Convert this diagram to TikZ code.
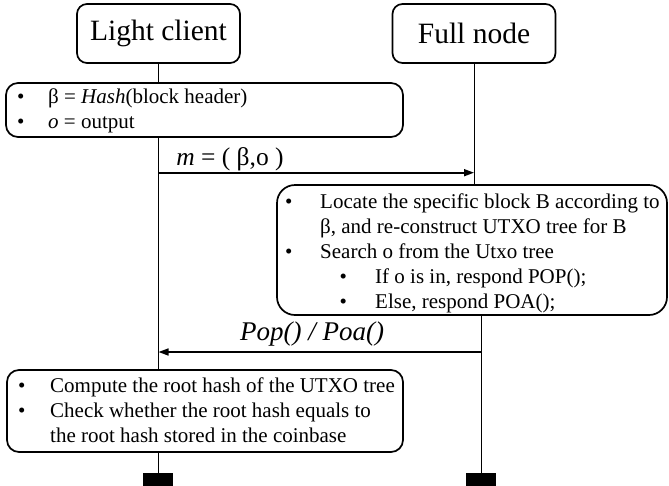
\documentclass[tikz,border=0pt]{standalone}
\usepackage{fontspec}
\setmainfont{Liberation Serif}
\usetikzlibrary{arrows.meta}
\begin{document}
\begin{tikzpicture}[x=1pt,y=-1pt,
 actor/.style={draw, line width=1.7pt, rounded corners=10pt, minimum width=163pt, minimum height=59pt, inner sep=0pt, font=\fontsize{29.5}{35}\selectfont},
 box/.style={draw, line width=1.7pt, rounded corners=12pt, inner sep=0pt},
 btxt/.style={anchor=west, align=left, inner sep=0pt, font=\fontsize{21}{25}\selectfont},
 life/.style={line width=1pt},
 msg/.style={line width=1.6pt, -{Triangle[length=10pt,width=7pt]}},
 bar/.style={fill=black, inner sep=0pt, minimum width=30pt, minimum height=14pt},
 lbl/.style={anchor=base, inner sep=0pt, font=\fontsize{27}{32}\selectfont}
]
\useasboundingbox (0,0) rectangle (669,485);
\node[actor] (lc) at (158.5,33.5) {Light client};
\node[actor] (fn) at (474,33.5) {Full node};
\node[bar] (barL) at (158,480) {};
\node[bar] (barR) at (481,480) {};

\node[box, minimum width=397pt, minimum height=54pt] (b1) at (204.5,110) {};
\node[btxt] (t1) at (17,110.5) {\makebox[31pt][l]{\textbullet}β = \textit{Hash}(block header)\\
\makebox[31pt][l]{\textbullet}\textit{o} = output};

\node[box, rounded corners=18pt, minimum width=390pt, minimum height=130pt] (b2) at (472,250) {};
\node[btxt] (t2) at (285,253) {\makebox[35pt][l]{\textbullet}Locate the specific block B according to\\
\hspace*{35pt}β, and re-construct UTXO tree for B\\
\makebox[35pt][l]{\textbullet}Search o from the Utxo tree\\
\hspace*{54.5pt}\makebox[35.5pt][l]{\textbullet}If o is in, respond POP();\\
\hspace*{54.5pt}\makebox[35.5pt][l]{\textbullet}Else, respond POA();};

\node[box, minimum width=396pt, minimum height=82pt] (b3) at (205,411) {};
\node[btxt] (t3) at (18,410.5) {\makebox[32pt][l]{\textbullet}Compute the root hash of the UTXO tree\\
\makebox[32pt][l]{\textbullet}Check whether the root hash equals to\\
\hspace*{32pt}the root hash stored in the coinbase};

\draw[life] (lc.south) -- (lc.south |- b1.north);
\draw[life] (lc.south |- b1.south) -- (lc.south |- b3.north);
\draw[life] (lc.south |- b3.south) -- (lc.south |- barL.north);
\draw[life] (fn.south) -- (fn.south |- b2.north);
\draw[life] (barR.north |- b2.south) -- (barR.north);

\coordinate (ym) at (0,172.7);
\coordinate (yp) at (0,352);
\draw[msg] (lc.south |- ym) -- (fn.south |- ym);
\node[lbl, font=\fontsize{25.5}{30}\selectfont] (ml) at (230,165) {\textit{m} = ( β,o )};
\draw[msg] (barR.north |- yp) -- (lc.south |- yp);
\node[lbl] (pl) at (312,340) {\textit{Pop() / Poa()}};
\end{tikzpicture}
\end{document}
